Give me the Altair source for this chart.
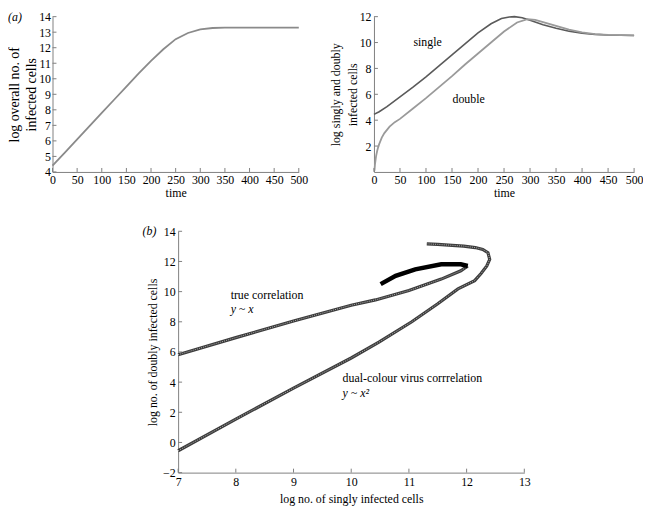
import altair as alt
import pandas as pd

# ---------------- data ----------------
t_overall = [0, 25, 50, 75, 100, 125, 150, 175, 200, 225, 250, 275, 300, 325, 350, 400, 450, 500]
overall = [4.4, 5.25, 6.1, 6.95, 7.8, 8.65, 9.5, 10.35, 11.15, 11.9, 12.55, 12.95, 13.18, 13.27, 13.3, 13.3, 13.3, 13.3]

t_single = [0, 10, 25, 50, 75, 100, 125, 150, 175, 200, 225, 245, 260, 270, 285, 300, 325, 350, 375, 400, 425, 450, 500]
single = [4.45, 4.65, 5.05, 5.8, 6.55, 7.35, 8.2, 9.05, 9.9, 10.75, 11.45, 11.85, 11.98, 12.0, 11.92, 11.72, 11.38, 11.1, 10.88, 10.72, 10.63, 10.58, 10.55]

t_double = [1, 2, 4, 6, 8, 10, 15, 20, 30, 40, 50, 75, 100, 125, 150, 175, 200, 225, 250, 275, 295, 310, 325, 350, 375, 400, 425, 450, 500]
double = [0.1, 0.6, 1.2, 1.6, 1.9, 2.15, 2.65, 3.0, 3.5, 3.85, 4.1, 4.9, 5.7, 6.55, 7.4, 8.3, 9.15, 10.0, 10.85, 11.55, 11.8, 11.75, 11.58, 11.28, 11.0, 10.78, 10.65, 10.6, 10.55]

true_out_x = [7.0, 8.0, 9.0, 10.0, 10.42, 11.0, 11.56, 11.9, 12.02]
true_out_y = [5.82, 6.95, 8.05, 9.1, 9.45, 10.07, 10.83, 11.38, 11.7]
true_back_x = [12.02, 11.9, 11.56, 11.11, 10.77, 10.51]
true_back_y = [11.7, 11.81, 11.81, 11.48, 11.05, 10.5]

dual_x = [7.0, 8.0, 9.0, 10.0, 10.48, 11.05, 11.5, 11.85, 12.14, 12.25, 12.35, 12.4, 12.37, 12.28, 12.15, 11.95, 11.75, 11.5, 11.31]
dual_y = [-0.55, 1.55, 3.6, 5.6, 6.65, 8.0, 9.2, 10.18, 10.73, 11.2, 11.7, 12.14, 12.58, 12.8, 12.92, 13.02, 13.07, 13.13, 13.17]

time_ticks = [0, 50, 100, 150, 200, 250, 300, 350, 400, 450, 500]
a_y_ticks = [4, 5, 6, 7, 8, 9, 10, 11, 12, 13, 14]
b_y_ticks = [2, 4, 6, 8, 10, 12]
c_x_ticks = [7, 8, 9, 10, 11, 12, 13]
c_y_ticks = [-2, 0, 2, 4, 6, 8, 10, 12, 14]

b_labels = ["single", "double"]
b_label_x = [103, 182]
b_label_y = [10.07, 5.66]

c_labels = ["true correlation", "y ~ x", "dual-colour virus corrrelation", "y ~ x\u00b2"]
c_label_x = [7.91, 7.91, 9.85, 9.85]
c_label_y = [9.78, 8.83, 4.25, 3.25]
c_label_style = ["normal", "italic", "normal", "italic"]

FONT = "Liberation Serif"
AX = "#808080"

WA, HA = 249, 157
WB, HB = 263, 157
WC, HC = 350, 244


def frame(xs, ys):
    return pd.DataFrame({"x": xs, "y": ys, "i": list(range(len(xs)))})


def inward_ticks(xt, yt, X, Y, H):
    xr = alt.Chart(pd.DataFrame({"x": xt})).mark_rule(color=AX, strokeWidth=1).encode(
        x=X, y=alt.value(H), y2=alt.value(H - 4))
    yr = alt.Chart(pd.DataFrame({"y": yt})).mark_rule(color=AX, strokeWidth=1).encode(
        y=Y, x=alt.value(0), x2=alt.value(4))
    return xr, yr


def panel_label(txt, dx):
    return alt.Chart(pd.DataFrame({"s": [txt]})).mark_text(
        font=FONT, fontSize=12, fontStyle="italic", align="left", baseline="middle", color="black"
    ).encode(text="s:N", x=alt.value(dx), y=alt.value(0))


def marker_line(df, X, Y, width, color, inner):
    base = alt.Chart(df).mark_line(color=color, strokeWidth=width).encode(x=X, y=Y, order="i:Q")
    core = alt.Chart(df).mark_line(color=inner, strokeWidth=1, strokeDash=[1, 1.2]).encode(
        x=X, y=Y, order="i:Q")
    return [base, core]


# ---------------- panel (a) left ----------------
XA = alt.X("x:Q", scale=alt.Scale(domain=[0, 500], nice=False, zero=False),
           axis=alt.Axis(values=time_ticks, title="time", format="d", labelPadding=3, titlePadding=2))
YA = alt.Y("y:Q", scale=alt.Scale(domain=[4, 14], nice=False, zero=False),
           axis=alt.Axis(values=a_y_ticks, title=["log overall no. of", "infected cells"],
                         format="d", labelPadding=2, titlePadding=0, titleFontSize=14))
lineA = alt.Chart(frame(t_overall, overall)).mark_line(color="#8a8a8a", strokeWidth=1.8).encode(
    x=XA, y=YA, order="i:Q")
tA = inward_ticks(time_ticks, a_y_ticks, XA, YA, HA)
panelA = alt.layer(lineA, tA[0], tA[1], panel_label("(a)", -45)).properties(width=WA, height=HA)

# ---------------- panel (a) right ----------------
XB = alt.X("x:Q", scale=alt.Scale(domain=[0, 500], nice=False, zero=False),
           axis=alt.Axis(values=time_ticks, title="time", format="d", labelPadding=3, titlePadding=2))
YB = alt.Y("y:Q", scale=alt.Scale(domain=[0, 12], nice=False, zero=False),
           axis=alt.Axis(values=b_y_ticks, title=["log singly and doubly", "infected cells"],
                         format="d", labelPadding=3, titlePadding=0))
lineS = alt.Chart(frame(t_single, single)).mark_line(color="#5a5a5a", strokeWidth=1.6).encode(
    x=XB, y=YB, order="i:Q")
lineD = alt.Chart(frame(t_double, double)).mark_line(color="#9a9a9a", strokeWidth=1.8).encode(
    x=XB, y=YB, order="i:Q")
textB = alt.Chart(pd.DataFrame({"s": b_labels, "x": b_label_x, "y": b_label_y})).mark_text(
    font=FONT, fontSize=12, color="black").encode(x=XB, y=YB, text="s:N")
tB = inward_ticks(time_ticks, b_y_ticks, XB, YB, HB)
panelB = alt.layer(lineS, lineD, textB, tB[0], tB[1]).properties(width=WB, height=HB)

# ---------------- panel (b) ----------------
XC = alt.X("x:Q", scale=alt.Scale(domain=[7, 13], nice=False, zero=False),
           axis=alt.Axis(values=c_x_ticks, title="log no. of singly infected cells",
                         format="d", labelPadding=4, titlePadding=6))
YC = alt.Y("y:Q", scale=alt.Scale(domain=[-2, 14], nice=False, zero=False),
           axis=alt.Axis(values=c_y_ticks, title="log no. of doubly infected cells",
                         format="d", labelPadding=3, titlePadding=3))
dualLayers = marker_line(frame(dual_x, dual_y), XC, YC, 3.2, "#3c3c3c", "#b0b0b0")
trueLayers = marker_line(frame(true_out_x, true_out_y), XC, YC, 3.2, "#3c3c3c", "#b0b0b0")
lineBack = alt.Chart(frame(true_back_x, true_back_y)).mark_line(color="black", strokeWidth=4.5).encode(
    x=XC, y=YC, order="i:Q")
c_df = pd.DataFrame({"s": c_labels, "x": c_label_x, "y": c_label_y, "st": c_label_style})
textC_norm = alt.Chart(c_df).mark_text(font=FONT, fontSize=12, color="black", align="left").encode(
    x=XC, y=YC, text="s:N").transform_filter(alt.datum.st == "normal")
textC_ital = alt.Chart(c_df).mark_text(font=FONT, fontSize=12, color="black", align="left",
                                       fontStyle="italic").encode(
    x=XC, y=YC, text="s:N").transform_filter(alt.datum.st == "italic")
tC = inward_ticks(c_x_ticks, c_y_ticks, XC, YC, HC)
panelC = alt.layer(*dualLayers, *trueLayers, lineBack, textC_norm, textC_ital, tC[0], tC[1],
                   panel_label("(b)", -36)).properties(width=WC, height=HC)

spacer = alt.Chart(pd.DataFrame({"s": [0]})).mark_point(opacity=0).encode(
    x=alt.value(0), y=alt.value(0)).properties(width=127, height=10)

top = alt.hconcat(panelA, panelB, spacing=76, bounds="flush")
bottom = alt.hconcat(spacer, panelC, spacing=0, bounds="flush")

chart = alt.vconcat(top, bottom, spacing=27).properties(padding=0).configure_view(
    stroke=None
).configure_axis(
    labelFont=FONT, titleFont=FONT, labelFontSize=12, titleFontSize=12, titleFontWeight="normal",
    labelColor="black", titleColor="black", domainColor=AX, ticks=False, grid=False,
    titleLineHeight=17, labelOverlap=False, labelFlush=False
)

chart.save("out.html", embed_options={"renderer": "svg", "actions": False})
